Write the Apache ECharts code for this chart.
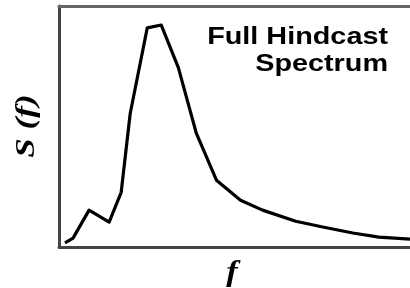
<!DOCTYPE html>
<html>
<head>
<meta charset="utf-8">
<script src="https://cdn.jsdelivr.net/npm/echarts@6/dist/echarts.min.js"></script>
<style>
  html, body { margin: 0; padding: 0; background: #fff; }
  #chart { width: 410px; height: 288px; }
</style>
</head>
<body>
<div id="chart"></div>
<script>
// 频率 / 谱密度 (读图估计, 任意单位)
var freq = [0.006, 0.014, 0.030, 0.050, 0.062, 0.071, 0.088, 0.102, 0.119, 0.137, 0.157, 0.181, 0.203, 0.236, 0.263, 0.293, 0.319, 0.350];
var spec = [0.017, 0.037, 0.153, 0.103, 0.227, 0.554, 0.909, 0.921, 0.744, 0.471, 0.277, 0.194, 0.153, 0.107, 0.083, 0.058, 0.041, 0.033];
var titleLines = ['Full Hindcast', 'Spectrum'];
var yName = 'S (f)';
var xName = 'f';

var chart = echarts.init(document.getElementById('chart'));

var points = freq.map(function (f, i) { return [f, spec[i]]; });

var axisBase = {
    type: 'value',
    axisTick: { show: false },
    axisLabel: { show: false },
    splitLine: { show: false }
};

chart.setOption({
    animation: false,
    backgroundColor: '#fff',
    grid: { left: 59, right: 0, top: 6, bottom: 41 },
    xAxis: [
        Object.assign({}, axisBase, {
            min: 0, max: 0.35,
            axisLine: { show: true, onZero: false, lineStyle: { color: '#444', width: 3 } }
        }),
        Object.assign({}, axisBase, {
            position: 'top', min: 0, max: 0.35,
            axisLine: { show: true, onZero: false, lineStyle: { color: '#666', width: 3 } }
        })
    ],
    yAxis: Object.assign({}, axisBase, {
        min: 0, max: 1,
        axisLine: { show: true, onZero: false, lineStyle: { color: '#444', width: 3 } }
    }),
    series: [{
        type: 'line',
        data: points,
        symbol: 'none',
        lineStyle: { color: '#000', width: 3.2, join: 'round' }
    }],
    graphic: [
        {
            type: 'text', x: 388, y: 37, scaleX: 1.2,
            style: { text: titleLines[0], font: 'bold 24px "Liberation Sans", Arial, sans-serif', fill: '#000', textAlign: 'right', textVerticalAlign: 'middle' }
        },
        {
            type: 'text', x: 388, y: 64, scaleX: 1.2,
            style: { text: titleLines[1], font: 'bold 24px "Liberation Sans", Arial, sans-serif', fill: '#000', textAlign: 'right', textVerticalAlign: 'middle' }
        },
        {
            type: 'text', x: 27, y: 126, rotation: Math.PI / 2, scaleX: 1.3,
            style: { text: yName, font: 'italic bold 27px "Liberation Serif", "Times New Roman", serif', fill: '#000', textAlign: 'center', textVerticalAlign: 'middle' }
        },
        {
            type: 'text', x: 232, y: 273, scaleX: 1.15,
            style: { text: xName, font: 'italic bold 30px "Liberation Serif", "Times New Roman", serif', fill: '#000', textAlign: 'center', textVerticalAlign: 'middle' }
        }
    ]
});
</script>
</body>
</html>
